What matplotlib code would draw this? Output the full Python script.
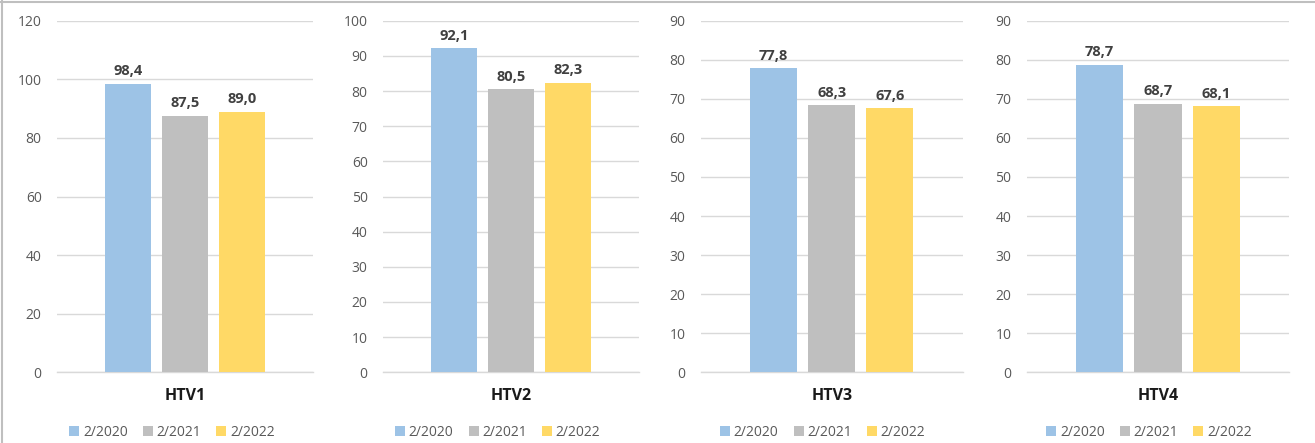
import matplotlib.pyplot as plt
from matplotlib.patches import Patch
from matplotlib.lines import Line2D

plt.rcParams['font.family'] = ['Open Sans', 'DejaVu Sans']

# Data
channels = ['HTV1', 'HTV2', 'HTV3', 'HTV4']
periods = ['2/2020', '2/2021', '2/2022']
val_2020 = [98.4, 92.1, 77.8, 78.7]
val_2021 = [87.5, 80.5, 68.3, 68.7]
val_2022 = [89.0, 82.3, 67.6, 68.1]
y_max = [120, 100, 90, 90]
y_step = [20, 10, 10, 10]

colors = ['#9DC3E6', '#BFBFBF', '#FFD966']
grid_col = '#D9D9D9'
tick_col = '#595959'

W, H = 1315, 443
fig = plt.figure(figsize=(W / 100, H / 100), dpi=100)

# axes placement in pixels (left, width) and shared vertical span
ax_px = [(57, 256), (383, 256), (700.7, 262), (1026.7, 262.6)]
legend_cx = [172, 497.6, 822.6, 1149]
y_top, y_bot = 20.7, 372.3

series = [val_2020, val_2021, val_2022]
offsets = [-0.222, 0, 0.222]
bw = 0.18

for i, name in enumerate(channels):
    left, width = ax_px[i]
    ax = fig.add_axes([left / W, 1 - y_bot / H, width / W, (y_bot - y_top) / H])
    for k in range(3):
        v = series[k][i]
        ax.bar(offsets[k], v, width=bw, color=colors[k], zorder=3)
        ax.annotate(f'{v:.1f}'.replace('.', ','), (offsets[k], v),
                    xytext=(0, 4), textcoords='offset points',
                    ha='center', va='bottom', fontsize=10.5,
                    fontweight='bold', color='#404040')
    ax.set_xlim(-0.5, 0.5)
    ax.set_ylim(0, y_max[i])
    ax.set_yticks(range(0, y_max[i] + 1, y_step[i]))
    ax.set_xticks([0])
    ax.set_xticklabels([name], fontsize=11.5, fontweight='bold', color='#1a1a1a')
    ax.tick_params(axis='x', length=0, pad=11)
    ax.tick_params(axis='y', length=0, pad=11, labelsize=10, labelcolor=tick_col)
    ax.grid(axis='y', color=grid_col, linewidth=1, zorder=0)
    for s in ['top', 'right', 'left']:
        ax.spines[s].set_visible(False)
    ax.spines['bottom'].set_color(grid_col)
    ax.spines['bottom'].set_linewidth(1)

    handles = [Patch(facecolor=c, edgecolor='none') for c in colors]
    fig.legend(handles, periods, loc='center', ncol=3, frameon=False,
               bbox_to_anchor=(legend_cx[i] / W, 1 - 432.7 / H),
               fontsize=10, labelcolor=tick_col, handlelength=0.72,
               handleheight=0.72, handletextpad=0.25, columnspacing=1.1,
               borderaxespad=0, borderpad=0)

# outer frame (top and left edges)
fig.add_artist(Line2D([0, 1], [1 - 1.5 / H, 1 - 1.5 / H], color='#BFBFBF', linewidth=1.5))
fig.add_artist(Line2D([2 / W, 2 / W], [0, 1], color='#BFBFBF', linewidth=1.5))

fig.savefig('out.png', dpi=100)
